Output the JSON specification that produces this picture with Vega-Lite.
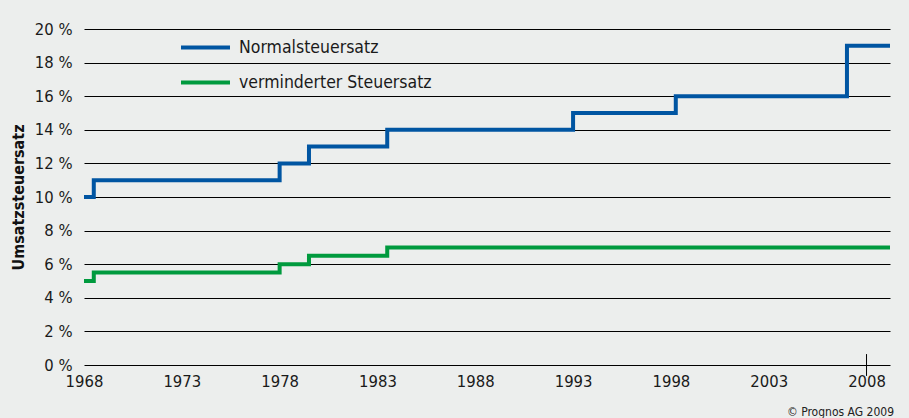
{
  "$schema": "https://vega.github.io/schema/vega-lite/v6.json",
  "width": 806,
  "height": 336,
  "autosize": {"type": "none"},
  "padding": {"left": 84, "top": 29, "right": 19, "bottom": 53},
  "background": "#eceeed",
  "title": {"text": "© Prognos AG 2009", "orient": "bottom", "anchor": "end", "fontSize": 12, "fontWeight": "normal", "font": "DejaVu Sans Condensed", "color": "#222", "offset": 17, "dx": -4},
  "config": {
    "view": {"stroke": null},
    "font": "DejaVu Sans Condensed",
    "axis": {"labelFont": "DejaVu Sans Condensed", "labelFontSize": 16.5, "labelColor": "#1a1a1a", "labelOverlap": false}
  },
  "datasets": {
    "rates": [
      {"year": 1968.0, "rate": 10, "series": "Normalsteuersatz"},
      {"year": 1968.5, "rate": 11, "series": "Normalsteuersatz"},
      {"year": 1978.0, "rate": 12, "series": "Normalsteuersatz"},
      {"year": 1979.5, "rate": 13, "series": "Normalsteuersatz"},
      {"year": 1983.5, "rate": 14, "series": "Normalsteuersatz"},
      {"year": 1993.0, "rate": 15, "series": "Normalsteuersatz"},
      {"year": 1998.25, "rate": 16, "series": "Normalsteuersatz"},
      {"year": 2007.0, "rate": 19, "series": "Normalsteuersatz"},
      {"year": 2009.2, "rate": 19, "series": "Normalsteuersatz"},
      {"year": 1968.0, "rate": 5, "series": "verminderter Steuersatz"},
      {"year": 1968.5, "rate": 5.5, "series": "verminderter Steuersatz"},
      {"year": 1978.0, "rate": 6, "series": "verminderter Steuersatz"},
      {"year": 1979.5, "rate": 6.5, "series": "verminderter Steuersatz"},
      {"year": 1983.5, "rate": 7, "series": "verminderter Steuersatz"},
      {"year": 2009.2, "rate": 7, "series": "verminderter Steuersatz"}
    ]
  },
  "encoding": {
    "x": {
      "field": "year", "type": "quantitative",
      "scale": {"domain": [1968, 2009.2], "nice": false, "zero": false},
      "axis": {"values": [1968, 1973, 1978, 1983, 1988, 1993, 1998, 2003, 2008], "format": "d", "title": null, "domain": false, "ticks": false, "grid": false, "labelPadding": 8, "labelFlush": false}
    }
  },
  "layer": [
    {
      "data": {"name": "rates"},
      "mark": {"type": "line", "interpolate": "step-after", "strokeWidth": 4, "strokeCap": "butt", "strokeJoin": "miter"},
      "encoding": {
        "y": {
          "field": "rate", "type": "quantitative",
          "scale": {"domain": [0, 20], "nice": false},
          "axis": {"values": [0, 2, 4, 6, 8, 10, 12, 14, 16, 18, 20], "labelExpr": "datum.value + ' %'", "title": "Umsatzsteuersatz", "titleFontSize": 16, "titleFontWeight": "bold", "titleFont": "DejaVu Sans Condensed", "titleColor": "#111", "titlePadding": 8, "domain": false, "ticks": false, "labelPadding": 12, "labelOverlap": false, "grid": true, "gridColor": "#000", "gridWidth": 1, "gridOpacity": 1}
        },
        "color": {
          "field": "series", "type": "nominal",
          "scale": {"domain": ["Normalsteuersatz", "verminderter Steuersatz"], "range": ["#0055a2", "#009a3e"]},
          "legend": {"title": null, "orient": "none", "legendX": 95, "legendY": -8, "symbolType": "stroke", "symbolSize": 2400, "symbolStrokeWidth": 4, "labelFontSize": 17.5, "labelLimit": 400, "labelFont": "DejaVu Sans Condensed", "labelColor": "#1a1a1a", "labelOffset": 7, "rowPadding": 0, "fillColor": null}
        }
      }
    },
    {
      "data": {"values": [{"year": 2008, "lo": -0.65, "hi": 0.65}]},
      "mark": {"type": "rule", "color": "#000", "strokeWidth": 1, "clip": false},
      "encoding": {
        "y": {
          "field": "lo", "type": "quantitative",
          "scale": {"domain": [0, 20], "nice": false},
          "axis": {"values": [0, 2, 4, 6, 8, 10, 12, 14, 16, 18, 20], "labelExpr": "datum.value + ' %'", "title": "Umsatzsteuersatz", "titleFontSize": 16, "titleFontWeight": "bold", "titleFont": "DejaVu Sans Condensed", "titleColor": "#111", "titlePadding": 8, "domain": false, "ticks": false, "labelPadding": 12, "labelOverlap": false, "grid": true, "gridColor": "#000", "gridWidth": 1, "gridOpacity": 1}
        },
        "y2": {"field": "hi"}
      }
    }
  ]
}
